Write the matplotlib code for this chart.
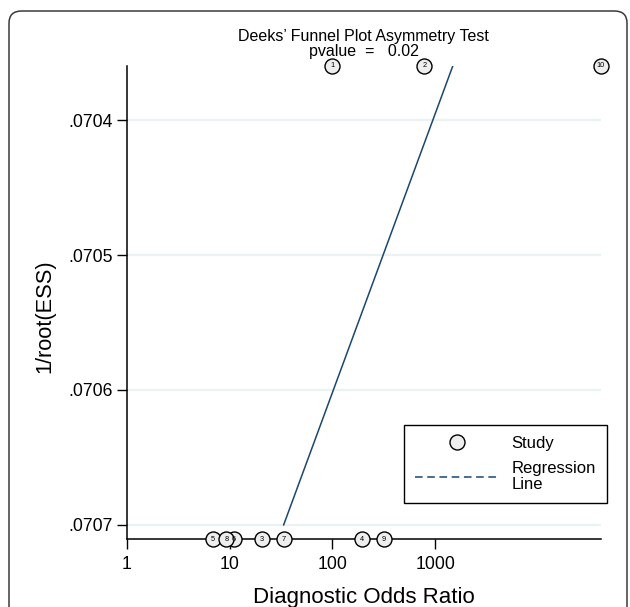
import numpy as np
import matplotlib
matplotlib.use("Agg")
import matplotlib.pyplot as plt
from matplotlib.lines import Line2D
from matplotlib.patches import FancyBboxPatch

plt.rcParams['font.family'] = ['Liberation Sans', 'DejaVu Sans']

# study data
study = [1, 2, 3, 4, 5, 6, 7, 8, 9, 10]
dor = [99, 783, 20.4, 192, 6.87, 10.97, 33.5, 9.25, 318, 40800]
ess = [202, 202, 200, 200, 200, 200, 200, 200, 200, 202]
inv_root_ess = [1 / np.sqrt(e) for e in ess]

# regression line end points (DOR vs 1/root(ESS))
reg_dor = [33.5, 1487]
reg_y = [0.0707, 1 / np.sqrt(202)]

yticks = [0.0704, 0.0705, 0.0706, 0.0707]
ytick_labels = [".0704", ".0705", ".0706", ".0707"]
xticks = [1, 10, 100, 1000]
xtick_labels = ["1", "10", "100", "1000"]

W, H = 630, 607
navy = "#1a476f"

fig = plt.figure(figsize=(W / 100, H / 100), dpi=100)
fig.patch.set_facecolor("white")

# outer rounded frame
frame = FancyBboxPatch((9 / W, -0.05), (627 - 9) / W, 1 - 11 / H + 0.05,
                       boxstyle="round,pad=0,rounding_size=0.02",
                       transform=fig.transFigure, fc="none", ec="#3a3a3a", lw=1.1)
fig.patches.append(frame)

ax = fig.add_axes([127 / W, 1 - 539.3 / H, (600.6 - 127) / W, (539.3 - 65.8) / H])
ax.set_xscale("log")
ax.set_xlim(1, max(dor))
ax.set_ylim(max(inv_root_ess), min(inv_root_ess))

ax.set_yticks(yticks)
ax.set_yticklabels(ytick_labels, fontsize=12.7)
ax.set_xticks(xticks)
ax.set_xticklabels(xtick_labels, fontsize=12.7)
ax.minorticks_off()
ax.tick_params(axis="both", direction="out", length=7, width=1, color="black")
ax.tick_params(axis="y", pad=3)
ax.tick_params(axis="x", pad=5)

ax.yaxis.grid(True, color="#eaf2f3", lw=1.6)
ax.set_axisbelow(True)
for s in ["top", "right"]:
    ax.spines[s].set_visible(False)
for s in ["left", "bottom"]:
    ax.spines[s].set_linewidth(1.1)

ax.plot(reg_dor, reg_y, color=navy, lw=1.1, zorder=2)

ax.plot(dor, inv_root_ess, "o", ms=10.8, mfc="#eeeeee", mec="black", mew=1.0,
        clip_on=False, zorder=4)
for s, x, y in zip(study, dor, inv_root_ess):
    ax.text(x, y, str(s), fontsize=5.3, ha="center", va="center", zorder=5, clip_on=False)

# titles and axis labels
fig.text(363.6 / W, 1 - 41 / H, "Deeks\u2019 Funnel Plot Asymmetry Test", fontsize=11.5,
         ha="center", va="baseline")
fig.text(363.6 / W, 1 - 56 / H, "pvalue  =   0.02", fontsize=11.5, ha="center", va="baseline")
fig.text(45 / W, 1 - 316 / H, "1/root(ESS)", fontsize=15.7, rotation=90,
         ha="center", va="center")
fig.text(363.6 / W, 1 - 603 / H, "Diagnostic Odds Ratio", fontsize=16,
         ha="center", va="baseline")

handles = [Line2D([], [], marker="o", ls="none", ms=10.8, mfc="#eeeeee", mec="black", mew=1.0),
           Line2D([], [], color=navy, ls=(0, (5, 3)), lw=1.1)]
leg = ax.legend(handles, ["Study", "Regression\nLine"], loc="upper left",
                bbox_to_anchor=(404 / W, 1 - 424.7 / H), bbox_transform=fig.transFigure,
                fontsize=12, handlelength=5.0, handletextpad=0.8, borderpad=0.65,
                labelspacing=0.62, borderaxespad=0, fancybox=False, framealpha=1,
                edgecolor="black")
leg.get_frame().set_linewidth(1.0)
for t in leg.get_texts():
    t.set_linespacing(1.12)

fig.savefig("out.png", dpi=100)
